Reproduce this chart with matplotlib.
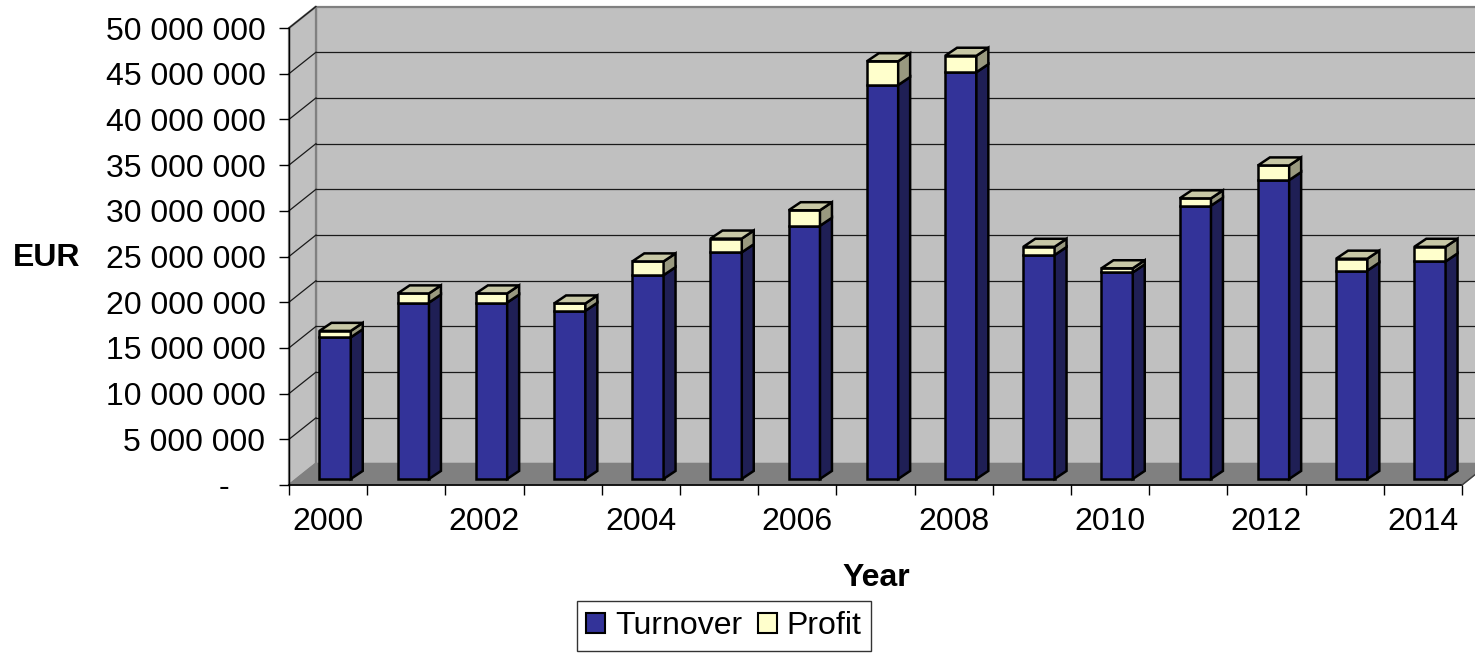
import matplotlib.pyplot as plt
from matplotlib.patches import Polygon, Patch
from matplotlib.ticker import FuncFormatter

plt.rcParams['font.family'] = ['Liberation Sans', 'DejaVu Sans']

years = list(range(2000, 2015))
turnover = [15.5, 19.3, 19.3, 18.4, 22.3, 24.8, 27.7, 43.1, 44.5, 24.5, 22.6, 29.9, 32.7, 22.8, 23.8]
profit = [0.7, 1.0, 1.0, 0.8, 1.5, 1.5, 1.7, 2.6, 1.8, 0.9, 0.45, 0.8, 1.6, 1.3, 1.6]
turnover = [v * 1e6 for v in turnover]
profit = [v * 1e6 for v in profit]

# fake 3d geometry (data units)
DX, DY = 0.345, 2.35e6       # wall depth
FX, FY = 0.09, 0.66e6        # bar front offset
BX, BY = 0.153, 0.88e6       # bar depth
W = 0.40
YMAX = 50e6
FS = 23

fig = plt.figure(figsize=(14.75, 6.56), dpi=100)
ax = fig.add_axes([289 / 1475, (656 - 485) / 656, (1462 - 289) / 1475, (485 - 28) / 656])
ax.set_xlim(-0.5, 14.5)
ax.set_ylim(0, YMAX)
ax.patch.set_visible(False)
for s in ['top', 'right', 'bottom']:
    ax.spines[s].set_visible(False)
ax.spines['left'].set_color('black')
ax.spines['left'].set_linewidth(1.0)

x0, x1 = -0.5, 14.5
# back wall
ax.add_patch(Polygon([(x0 + DX, DY), (x1 + DX + 1, DY), (x1 + DX + 1, YMAX + DY), (x0 + DX, YMAX + DY)],
                     closed=True, facecolor='#C0C0C0', edgecolor='#808080', lw=1.6, zorder=0, clip_on=False))
# left wall
ax.add_patch(Polygon([(x0, 0), (x0 + DX, DY), (x0 + DX, YMAX + DY), (x0, YMAX)],
                     closed=True, facecolor='#C0C0C0', edgecolor='#808080', lw=1.6, zorder=0, clip_on=False))
# floor
ax.add_patch(Polygon([(x0, 0), (x1, 0), (x1 + DX, DY), (x0 + DX, DY)],
                     closed=True, facecolor='#808080', edgecolor='#808080', lw=1.0, zorder=0.5, clip_on=False))

# gridlines on walls
for v in range(5_000_000, 50_000_001, 5_000_000):
    if v < YMAX:
        ax.plot([x0 + DX, x1 + DX + 1], [v + DY, v + DY], color='#1a1a1a', lw=0.9, zorder=1, clip_on=False)
    ax.plot([x0, x0 + DX], [v, v + DY], color='#1a1a1a', lw=0.9, zorder=1, clip_on=False)

# x axis line
ax.plot([x0, x1], [0, 0], color='black', lw=1.2, zorder=2, clip_on=False)
ax.plot([x1, x1 + DX], [0, DY], color='#404040', lw=1.0, zorder=2, clip_on=False)

pos = [i + FX for i in range(len(years))]
ax.bar(pos, turnover, width=W, bottom=FY, color='#333399', edgecolor='black', lw=1.8, zorder=3)
tops = [t + FY for t in turnover]
ax.bar(pos, profit, width=W, bottom=tops, color='#FFFFCC', edgecolor='black', lw=1.8, zorder=3)

def side_and_top(xc, yb, yt, side_c, top_c):
    xr = xc + W / 2
    xl = xc - W / 2
    ax.add_patch(Polygon([(xr, yb), (xr + BX, yb + BY), (xr + BX, yt + BY), (xr, yt)],
                         closed=True, facecolor=side_c, edgecolor='black', lw=1.8, zorder=3,
                         joinstyle='miter'))
    if top_c:
        ax.add_patch(Polygon([(xl, yt), (xl + BX, yt + BY), (xr + BX, yt + BY), (xr, yt)],
                             closed=True, facecolor=top_c, edgecolor='black', lw=1.8, zorder=3,
                             joinstyle='miter'))

for p, t, pr in zip(pos, turnover, profit):
    side_and_top(p, FY, FY + t, '#1F1F55', None)
    side_and_top(p, FY + t, FY + t + pr, '#99997F', '#C8C8A6')

# ticks
ax.set_yticks(range(0, 50_000_001, 5_000_000))
ax.yaxis.set_major_formatter(FuncFormatter(
    lambda v, _: '-    ' if v == 0 else f'{int(v):,}'.replace(',', ' ')))
ax.tick_params(axis='y', direction='out', length=7, width=1.0, pad=10, labelsize=FS)

ax.set_xticks(range(len(years)))
ax.set_xticklabels([str(y) if y % 2 == 0 else '' for y in years])
ax.tick_params(axis='x', which='major', length=0, pad=16, labelsize=FS)
ax.set_xticks([i - 0.5 for i in range(len(years) + 1)], minor=True)
ax.tick_params(axis='x', which='minor', direction='out', length=7, width=1.0)

fig.text(47 / 1475, 1 - 258 / 656, 'EUR', fontsize=FS, fontweight='bold', ha='center', va='center')
fig.text(876 / 1475, 1 - 578 / 656, 'Year', fontsize=FS, fontweight='bold', ha='center', va='center')

handles = [Patch(facecolor='#333399', edgecolor='black', lw=1.5, label='Turnover'),
           Patch(facecolor='#FFFFCC', edgecolor='black', lw=1.5, label='Profit')]
leg = fig.legend(handles=handles, loc='center', bbox_to_anchor=(724 / 1475, 1 - 626 / 656), ncol=2,
                 fontsize=FS, frameon=True, fancybox=False, edgecolor='black',
                 handlelength=0.6, handleheight=0.6, handletextpad=0.3, columnspacing=0.5,
                 borderpad=0.3, borderaxespad=0)
leg.get_frame().set_linewidth(1.0)

fig.savefig('out.png', dpi=100)
